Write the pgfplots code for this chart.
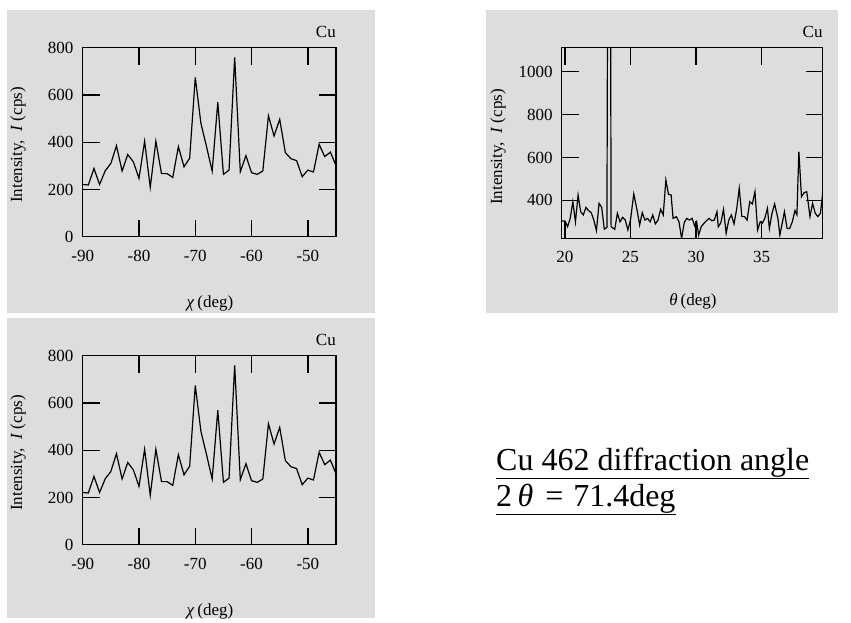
\documentclass[border=0pt]{standalone}
\usepackage{fontspec}
\setmainfont{Liberation Serif}
\usepackage{pgfplots}
\usepackage{pgfplotstable}
\pgfplotsset{compat=1.18}
\definecolor{panel}{RGB}{221,221,221}

\pgfplotstableread{
x y
-90 221
-89 219
-88 289
-87 221
-86 279
-85 310
-84 385
-83 278
-82 348
-81 317
-80 247
-79 404
-78 209
-77 404
-76 267
-75 267
-74 251
-73 381
-72 296
-71 332
-70 674
-69 480
-68 381
-67 278
-66 569
-65 264
-64 282
-63 759
-62 275
-61 343
-60 271
-59 264
-58 278
-57 512
-56 426
-55 497
-54 356
-53 330
-52 322
-51 254
-50 282
-49 274
-48 391
-47 339
-46 358
-45 301
}\chidata

\pgfplotstableread{
x y
19.75 304
20.0 304
20.2 277
20.4 316
20.6 394
20.8 300
21.0 425
21.2 347
21.4 332
21.6 367
21.8 352
22.0 343
22.2 308
22.4 259
22.6 386
22.8 367
23.0 266
23.2 274
23.38 4000
23.52 277
23.8 265
24.0 340
24.2 300
24.4 321
24.6 308
24.8 262
25.0 308
25.25 430
25.5 355
25.7 285
25.9 343
26.1 308
26.3 316
26.5 300
26.7 332
26.9 290
27.1 308
27.3 358
27.5 332
27.7 495
27.9 428
28.1 425
28.25 316
28.5 324
28.7 300
28.9 223
29.1 296
29.3 316
29.5 308
29.7 316
29.9 280
30.05 300
30.2 238
30.4 277
30.6 293
30.8 305
31.0 316
31.2 305
31.4 308
31.6 347
31.7 277
31.9 296
32.1 358
32.3 246
32.5 308
32.7 332
32.9 290
33.1 358
33.3 456
33.5 324
33.7 324
33.9 308
34.1 394
34.3 383
34.5 440
34.7 262
34.9 300
35.05 293
35.25 316
35.45 363
35.6 269
35.8 340
36.0 383
36.25 316
36.4 238
36.6 300
36.75 347
36.95 269
37.15 269
37.35 300
37.55 352
37.7 332
37.85 627
38.05 417
38.25 436
38.45 440
38.7 324
38.9 386
39.1 340
39.3 324
39.5 340
39.67 433
}\thetadata

\pgfplotsset{
  panelaxis/.style={
    scale only axis,
    anchor=south west,
    axis line style={line width=1.5pt},
    every tick/.style={black, line width=1.3pt},
    major tick length=17pt,
    tick align=inside,
    xtick pos=both, ytick pos=both,
    xticklabel pos=lower, yticklabel pos=left,
    tick label style={font=\fontsize{17}{20}\selectfont},
    xticklabel style={anchor=north, inner sep=0pt, yshift=-13pt},
    yticklabel style={anchor=east, inner sep=0pt, xshift=-9pt},
    axis on top,
  },
  chiaxis/.style={
    panelaxis,
    width=253.3pt, height=189pt,
    xmin=-90, xmax=-45, ymin=0, ymax=800,
    xtick={-90,-80,-70,-60,-50},
    xticklabels={-90,-80,-70,-60,-50},
    ytick={0,200,400,600,800},
    yticklabels={0,200,400,600,800},
  },
}

\begin{document}
\begin{tikzpicture}[x=1pt,y=1pt]
\path[use as bounding box] (0,0) rectangle (851,-623);
\fill[panel] (7,-10) rectangle (375,-313);
\fill[panel] (486,-10) rectangle (838,-313);
\fill[panel] (7,-318) rectangle (375,-618);

% top-left
\begin{axis}[chiaxis, at={(82.7pt,-236.7pt)}]
\addplot[black, line width=1.2pt] table[x=x,y=y] {\chidata};
\end{axis}
\node[anchor=east, inner sep=0pt, font=\fontsize{17}{20}\selectfont] at (336,-31.7) {Cu};
\node[inner sep=0pt, font=\fontsize{17}{20}\selectfont] at (210,-303) {\textit{χ}\,(deg)};
\node[inner sep=0pt, rotate=90, font=\fontsize{17}{20}\selectfont] at (18,-145) {Intensity,\ \ \textit{I}\ (cps)};

% top-right
\begin{axis}[panelaxis, at={(561.7pt,-238.3pt)},
  width=261pt, height=190.6pt,
  xmin=19.75, xmax=39.67, ymin=223, ymax=1112,
  xtick={20,25,30,35}, xticklabels={20,25,30,35},
  ytick={400,600,800,1000}, yticklabels={400,600,800,1000}]
\addplot[black, line width=1.2pt] table[x=x,y=y] {\thetadata};
\end{axis}
\node[anchor=east, inner sep=0pt, font=\fontsize{17}{20}\selectfont] at (822.7,-31.7) {Cu};
\node[inner sep=0pt, font=\fontsize{17}{20}\selectfont] at (693,-301.7) {\textit{θ}\,(deg)};
\node[inner sep=0pt, rotate=90, font=\fontsize{17}{20}\selectfont] at (498,-147) {Intensity,\ \ \textit{I}\ (cps)};

% bottom-left
\begin{axis}[chiaxis, at={(82.7pt,-544.7pt)}]
\addplot[black, line width=1.2pt] table[x=x,y=y] {\chidata};
\end{axis}
\node[anchor=east, inner sep=0pt, font=\fontsize{17}{20}\selectfont] at (336,-339.7) {Cu};
\node[inner sep=0pt, font=\fontsize{17}{20}\selectfont] at (210,-611) {\textit{χ}\,(deg)};
\node[inner sep=0pt, rotate=90, font=\fontsize{17}{20}\selectfont] at (18,-453) {Intensity,\ \ \textit{I}\ (cps)};

% annotation
\node[anchor=base west, inner sep=0pt, font=\fontsize{32}{36}\selectfont] at (496,-470) {\underline{Cu 462 diffraction angle}};
\node[anchor=base west, inner sep=0pt, font=\fontsize{32}{36}\selectfont] at (496,-506) {\underline{2\,\textit{θ}\hspace{4pt} = \hspace{2pt}71.4deg}};
\end{tikzpicture}
\end{document}
